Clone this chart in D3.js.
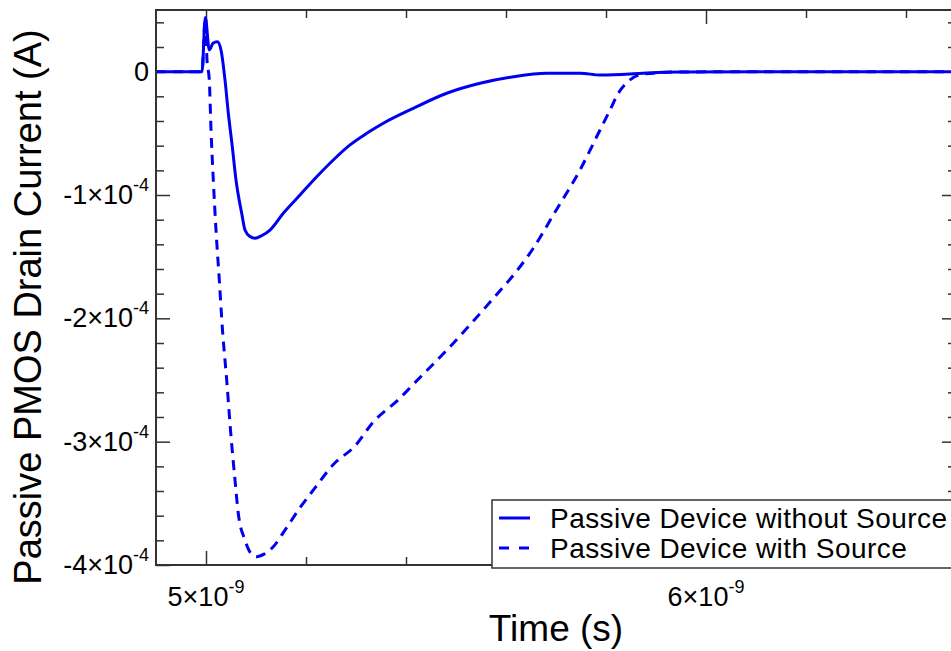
<!DOCTYPE html>
<html>
<head>
<meta charset="utf-8">
<script src="https://cdn.jsdelivr.net/npm/d3@7"></script>
<style>
  html, body { margin: 0; padding: 0; background: #fff; }
  svg { display: block; font-family: "Liberation Sans", Arial, Helvetica, sans-serif; }
</style>
</head>
<body>
<svg id="chart" width="951" height="651"></svg>
<script>
// Time in ns, drain current in µA
const timeNoSource = [4.90, 4.992, 4.9986, 5.0066, 5.014, 5.0226, 5.030, 5.038, 5.0446, 5.0526, 5.060, 5.0714, 5.078, 5.088, 5.098, 5.112, 5.128, 5.1546, 5.188, 5.2214, 5.2546, 5.288, 5.3214, 5.3546, 5.4146, 5.4814, 5.548, 5.6146, 5.6814, 5.748, 5.788, 5.848, 5.8814, 5.948, 6.5];
const currentNoSource = [0, 0, 44, 17.6, 23, 24.3, 17.6, -6.7, -33.5, -60.8, -87.8, -114.8, -128.4, -133.7, -135.1, -132.8, -128.4, -114.8, -100, -85.2, -71.6, -59.4, -50.0, -41.8, -29.7, -17.5, -9.4, -4.1, -1.3, -1.3, -2.7, -1.9, -1.0, -0.2, 0];

const timeWithSource = [4.90, 4.992, 4.9986, 5.002, 5.0066, 5.010, 5.0146, 5.020, 5.0266, 5.033, 5.0414, 5.049, 5.058, 5.0646, 5.078, 5.088, 5.1014, 5.116, 5.1346, 5.158, 5.188, 5.218, 5.2546, 5.298, 5.3346, 5.3846, 5.4146, 5.488, 5.5746, 5.628, 5.6546, 5.6946, 5.748, 5.788, 5.808, 5.8246, 5.848, 5.8746, 5.948, 6.5];
const currentWithSource = [0, 0, 44, 9.5, -6.7, -47, -87.8, -128.4, -168.9, -209.5, -250, -290.6, -331.1, -358.2, -379.8, -389.5, -393.3, -391.2, -385.2, -371.7, -353.5, -337.5, -318.5, -303.5, -284, -266, -253.5, -223.0, -183.8, -158.2, -143.2, -116.2, -79.7, -47.3, -31.1, -17.5, -6.7, -1.9, -0.2, 0];

const xMajorTicks = [5, 6];
const xMinorTicks = [5.2, 5.4, 5.6, 5.8, 6.2, 6.4];
const xTickLabels = [["5×10", "-9"], ["6×10", "-9"]];
const yMajorTicks = [0, -100, -200, -300, -400];
const yMinorTicks = [40, 20, -20, -40, -60, -80, -120, -140, -160, -180, -220, -240, -260, -280, -320, -340, -360, -380];
const yTickLabels = [["0", ""], ["-1×10", "-4"], ["-2×10", "-4"], ["-3×10", "-4"], ["-4×10", "-4"]];

const seriesNames = ["Passive Device without Source", "Passive Device with Source"];
const xTitle = "Time (s)";
const yTitle = "Passive PMOS Drain Current (A)";

const svg = d3.select("#chart");
const plot = { left: 156, top: 10, right: 956, bottom: 565 };

const x = d3.scaleLinear().domain([4.9, 6.5]).range([plot.left, plot.right]);
const y = d3.scaleLinear().domain([-400, 50]).range([plot.bottom, plot.top]);

const lineColor = "#0000f0";
const frameColor = "#333";

svg.append("defs").append("clipPath").attr("id", "plotClip")
  .append("rect")
  .attr("x", plot.left).attr("y", plot.top)
  .attr("width", plot.right - plot.left).attr("height", plot.bottom - plot.top);

// Inward ticks on all four sides
function tickAxis(axisFn, scale, values, size, tx, ty) {
  const g = svg.append("g").attr("transform", `translate(${tx},${ty})`)
    .call(axisFn(scale).tickValues(values).tickSize(size).tickFormat(""));
  g.select(".domain").remove();
  g.selectAll(".tick line").attr("stroke", frameColor).attr("stroke-width", 1.5);
  return g;
}
tickAxis(d3.axisBottom, x, xMajorTicks, -14, 0, plot.bottom);
tickAxis(d3.axisBottom, x, xMinorTicks, -8, 0, plot.bottom);
tickAxis(d3.axisTop, x, xMajorTicks, -14, 0, plot.top);
tickAxis(d3.axisTop, x, xMinorTicks, -8, 0, plot.top);
tickAxis(d3.axisLeft, y, yMajorTicks, -14, plot.left, 0);
tickAxis(d3.axisLeft, y, yMinorTicks, -8, plot.left, 0);
tickAxis(d3.axisRight, y, yMajorTicks, -14, plot.right, 0);
tickAxis(d3.axisRight, y, yMinorTicks, -8, plot.right, 0);

// Tick labels with superscript exponents
const xLab = svg.append("g").selectAll("text").data(xMajorTicks).join("text")
  .attr("x", d => x(d)).attr("y", 606)
  .attr("text-anchor", "middle")
  .attr("font-size", 27).attr("fill", "#000");
xLab.append("tspan").text((d, i) => xTickLabels[i][0]);
xLab.append("tspan").attr("dy", -13).attr("font-size", 18).text((d, i) => xTickLabels[i][1]);

const yLab = svg.append("g").selectAll("text").data(yMajorTicks).join("text")
  .attr("x", 149).attr("y", d => y(d) + 9)
  .attr("text-anchor", "end")
  .attr("font-size", 27).attr("fill", "#000");
yLab.append("tspan").text((d, i) => yTickLabels[i][0]);
yLab.append("tspan").attr("dy", -13).attr("font-size", 18).text((d, i) => yTickLabels[i][1]);

// Axis titles
svg.append("text").attr("x", 556).attr("y", 641)
  .attr("text-anchor", "middle").attr("font-size", 37).attr("fill", "#000")
  .text(xTitle);
svg.append("text")
  .attr("transform", "translate(41,307) rotate(-90)")
  .attr("text-anchor", "middle").attr("font-size", 38).attr("fill", "#000")
  .text(yTitle);

// Curves
const line = d3.line().x(d => x(d[0])).y(d => y(d[1])).curve(d3.curveMonotoneX);
const noSource = timeNoSource.map((t, i) => [t, currentNoSource[i]]);
const withSource = timeWithSource.map((t, i) => [t, currentWithSource[i]]);

const curves = svg.append("g").attr("clip-path", "url(#plotClip)");
curves.append("path").datum(withSource)
  .attr("d", line).attr("fill", "none")
  .attr("stroke", lineColor).attr("stroke-width", 3)
  .attr("stroke-dasharray", "10,7");
curves.append("path").datum(noSource)
  .attr("d", line).attr("fill", "none")
  .attr("stroke", lineColor).attr("stroke-width", 3);

// Plot frame
svg.append("rect")
  .attr("x", plot.left).attr("y", plot.top)
  .attr("width", plot.right - plot.left).attr("height", plot.bottom - plot.top)
  .attr("fill", "none").attr("stroke", frameColor).attr("stroke-width", 2);

// Legend
const legend = svg.append("g");
legend.append("rect")
  .attr("x", 492).attr("y", 500).attr("width", 470).attr("height", 68)
  .attr("fill", "#fff").attr("stroke", frameColor).attr("stroke-width", 1.5);
const legendRows = [{ y: 518, dash: null }, { y: 548, dash: "10,10" }];
legendRows.forEach((r, i) => {
  legend.append("line")
    .attr("x1", 499).attr("x2", 530).attr("y1", r.y).attr("y2", r.y)
    .attr("stroke", lineColor).attr("stroke-width", 3)
    .attr("stroke-dasharray", r.dash);
  legend.append("text")
    .attr("x", 550).attr("y", r.y + 10)
    .attr("font-size", 28).attr("letter-spacing", 0.45).attr("fill", "#000")
    .text(seriesNames[i]);
});
</script>
</body>
</html>
